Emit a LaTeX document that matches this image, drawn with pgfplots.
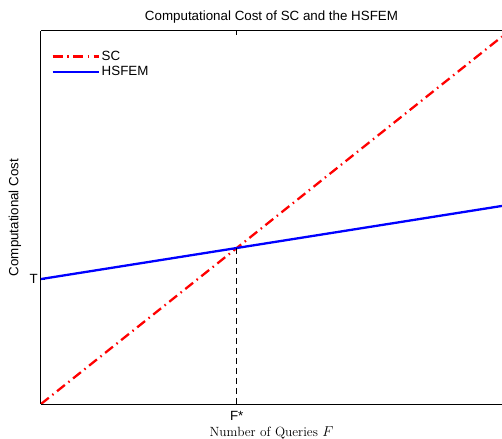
\documentclass[border=0pt]{standalone}
\usepackage{fontspec}
\setmainfont{Liberation Sans}
\usepackage{pgfplots}
\pgfplotsset{compat=1.18}

\begin{document}
\fontsize{13.4}{16}\selectfont
\begin{tikzpicture}
\begin{axis}[
  width=461bp, height=373bp,
  scale only axis,
  xmin=0, xmax=1,
  ymin=0, ymax=1,
  axis x line=box,
  axis y line=left,
  y axis line style={-},
  axis line style={line width=1bp},
  tick align=inside,
  major tick length=4bp,
  tick style={black, line width=0.8bp},
  xtick={0.4246}, xticklabels={F*},
  ytick={0.335}, yticklabels={T},
  /pgf/number format/assume math mode=true,
  xticklabel style={inner sep=1bp, yshift=-6bp},
  yticklabel style={inner sep=1bp, xshift=-2bp},
  title={Computational Cost of SC and the HSFEM},
  title style={at={(axis description cs:0.5,1.021)}, anchor=center, inner sep=0pt},
  xlabel={\fontspec{Latin Modern Roman}Number of Queries $F$},
  xlabel style={at={(axis description cs:0.5,-0.078)}, anchor=center, inner sep=0pt},
  ylabel={Computational Cost},
  ylabel style={at={(axis description cs:-0.0564,0.5)}, anchor=center, inner sep=0pt},
  legend style={draw=none, fill=none, at={(axis description cs:0.02,0.955)}, anchor=north west,
    font=\fontsize{13.4}{16}\selectfont, row sep=0bp, inner sep=1bp},
  legend cell align=left,
  legend image code/.code={\draw[#1] plot coordinates {(0bp,0bp) (46bp,0bp)};},
]
\addplot[red, line width=2.3bp, dash pattern=on 10bp off 4.5bp on 1.5bp off 4.5bp]
  coordinates {(0,0) (1,0.985)};
\addlegendentry{SC}
\addplot[blue, line width=2.3bp]
  coordinates {(0,0.335) (1,0.531)};
\addlegendentry{HSFEM}
\addplot[black, line width=0.8bp, dash pattern=on 6bp off 4bp, forget plot]
  coordinates {(0.4246,0) (0.4246,0.4182)};
\end{axis}
\pgfresetboundingbox
\path[use as bounding box] (-41bp,-35bp) rectangle (461bp,404bp);
\end{tikzpicture}
\end{document}
